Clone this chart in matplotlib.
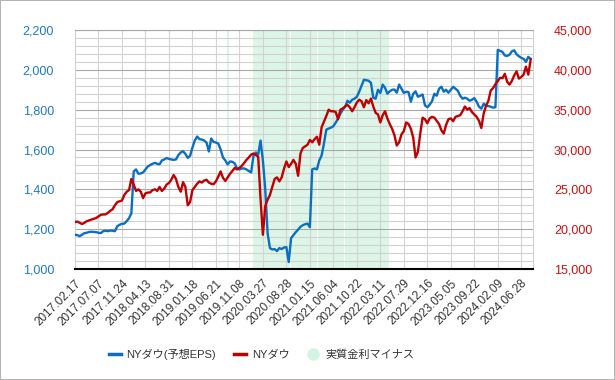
import numpy as np
import matplotlib
matplotlib.use('Agg')
import matplotlib.pyplot as plt
from matplotlib.lines import Line2D

plt.rcParams['font.family'] = ['Liberation Sans', 'Noto Sans CJK JP', 'DejaVu Sans']

## Data (one value every 2 weeks, weekly category axis)

tick_labels = ['2017.02.17', '2017.07.07', '2017.11.24', '2018.04.13', '2018.08.31',
               '2019.01.18', '2019.06.21', '2019.11.08', '2020.03.27', '2020.08.28',
               '2021.01.15', '2021.06.04', '2021.10.22', '2022.03.11', '2022.07.29',
               '2022.12.16', '2023.05.05', '2023.09.22', '2024.02.09', '2024.06.28']
weeks_per_tick = 20
step = 2

# NYダウ(予想EPS) - left axis
eps = [1172, 1170, 1165, 1172, 1180, 1182, 1186, 1187, 1186, 1185,
       1182, 1180, 1190, 1192, 1190, 1193, 1192, 1190, 1215, 1222,
       1227, 1228, 1240, 1255, 1280, 1490, 1500, 1478, 1480, 1485,
       1500, 1515, 1522, 1528, 1533, 1528, 1526, 1545, 1550, 1557,
       1553, 1550, 1548, 1550, 1572, 1585, 1591, 1578, 1558, 1568,
       1610, 1645, 1665, 1652, 1650, 1645, 1635, 1590, 1655, 1638,
       1635, 1630, 1600, 1560, 1545, 1525, 1540, 1538, 1530, 1505,
       1500, 1505, 1505, 1500, 1492, 1485, 1570, 1585, 1575, 1645,
       1545, 1400, 1180, 1105, 1098, 1100, 1090, 1105, 1100, 1108,
       1110, 1035, 1155, 1170, 1185, 1198, 1212, 1220, 1225, 1228,
       1210, 1500, 1505, 1500, 1545, 1570, 1630, 1700, 1705, 1710,
       1717, 1735, 1755, 1780, 1800, 1815, 1845, 1835, 1850, 1855,
       1865, 1890, 1920, 1950, 1948, 1945, 1935, 1860, 1855, 1900,
       1884, 1926, 1910, 1880, 1892, 1900, 1901, 1885, 1926, 1905,
       1884, 1890, 1888, 1840, 1880, 1892, 1865, 1870, 1876, 1822,
       1812, 1825, 1842, 1880, 1870, 1905, 1915, 1890, 1900, 1885,
       1900, 1915, 1905, 1895, 1870, 1855, 1860, 1855, 1845, 1850,
       1858, 1840, 1815, 1805, 1830, 1820, 1818, 1815, 1810, 1812,
       2100, 2095, 2090, 2072, 2070, 2076, 2093, 2098, 2078, 2068,
       2060, 2055, 2040, 2065, 2055]

# NYダウ - right axis
dow = [20900, 20950, 20800, 20650, 20800, 21000, 21100, 21200, 21300, 21400,
       21600, 21800, 21850, 21850, 22050, 22300, 22500, 23000, 23400, 23500,
       23600, 24300, 24700, 24900, 26300, 25600, 24800, 25000, 24700, 23900,
       24500, 24600, 24600, 24900, 25000, 24800, 25300, 24800, 25100, 25600,
       25800, 26200, 26800, 26300, 25300, 24700, 25900, 25300, 23000, 23400,
       24900, 25300, 25700, 26000, 25850, 26100, 26200, 25850, 25700, 25650,
       26000, 26600, 27250, 26450, 26050, 26500, 26950, 27300, 27700, 27500,
       27700, 27950, 28300, 28700, 29000, 29370, 29500, 29300, 29100, 23800,
       19300, 22900, 23700, 24300, 25300, 26300, 26500, 26000, 26500, 27600,
       28500, 27800, 28200, 28700, 28200, 26700, 29500, 30200, 30400, 30600,
       31200, 30900, 31300, 31600, 30600, 32800, 33500, 34200, 35000, 34800,
       34800, 34700, 33800, 35000, 35150, 35400, 35600, 35300, 34800, 35300,
       35900, 36250, 36050, 35300, 36200, 35800, 36400, 35400, 34600, 34400,
       33400, 34300, 34800, 33900, 33200, 32600, 31800, 30500, 30900, 31900,
       32300, 33400, 33200, 32600, 31500, 29000, 29700, 32000, 34000, 33800,
       33300, 33900, 34100, 34000, 33600, 33200, 32400, 32000, 33100, 33800,
       33900, 33550, 34100, 34200, 34300, 34800, 35400, 35000, 35200, 34700,
       34400, 34100, 33600, 32700, 34500, 35500, 36100, 37400, 37700, 38200,
       38600, 39000, 38950, 39500, 38500, 38150, 38600, 39300, 39800, 38900,
       39100, 39400, 40400, 39400, 41300]

# 実質金利マイナス (week index ranges)
neg_start = [130, 152]
neg_end = [131, 267]

## Plot

x = np.arange(len(eps)) * step
n_weeks = x[-1] + 2

fig = plt.figure(figsize=(6.15, 3.8), dpi=100, linewidth=1.2, edgecolor='#b4b4b4')
ax = fig.add_axes([75 / 615, 1 - 269 / 380, 458 / 615, 239 / 380])
ax2 = ax.twinx()

for s, e in zip(neg_start, neg_end):
    wk = np.arange(s, e + 1)
    ax.bar(wk, np.full(len(wk), 1200), bottom=1000, width=0.97,
           color='#dcf5e7', linewidth=0, zorder=0)

ax.plot(x, eps, color='#0a6fc2', lw=1.7, zorder=3)
ax2.plot(x, dow, color='#c00000', lw=1.7)

ax.set_xlim(0, n_weeks)
ax.set_ylim(1000, 2200)
ax2.set_ylim(15000, 45000)

ax.set_xticks(np.arange(len(tick_labels)) * weeks_per_tick)
ax.set_xticklabels(tick_labels, rotation=45, ha='right', rotation_mode='anchor',
                   fontsize=8.5, color='#333333')
ax.set_yticks(np.arange(1000, 2201, 200))
ax.set_yticks(np.arange(1000, 2201, 40), minor=True)
ax.set_yticklabels(['{:,}'.format(v) for v in range(1000, 2201, 200)],
                   fontsize=9, color='#1f78c8')
ax2.set_yticks(np.arange(15000, 45001, 5000))
ax2.set_yticklabels(['{:,}'.format(v) for v in range(15000, 45001, 5000)],
                    fontsize=9, color='#cc1111')

ax.tick_params(axis='x', length=0, pad=6)
ax.tick_params(axis='y', which='both', length=0, pad=15)
ax2.tick_params(axis='y', length=0, pad=15)

ax.grid(True, axis='y', which='major', color='#a8a8a8', lw=0.8)
ax.grid(True, axis='y', which='minor', color='#d2d2d2', lw=0.8)
ax.grid(True, axis='x', which='major', color='#d2d2d2', lw=0.8)

for side in ['left', 'right']:
    ax.spines[side].set_color('#d2d2d2')
    ax.spines[side].set_linewidth(0.8)
ax.spines['top'].set_color('#a8a8a8')
ax.spines['top'].set_linewidth(0.8)
ax.spines['bottom'].set_color('black')
ax.spines['bottom'].set_linewidth(1.5)
for sp in ax2.spines.values():
    sp.set_visible(False)

handles = [Line2D([], [], color='#0a6fc2', lw=2.5),
           Line2D([], [], color='#c00000', lw=2.5),
           Line2D([], [], marker='o', ls='none', markersize=9,
                  markerfacecolor='#d4f4e2', markeredgecolor='none')]
fig.legend(handles, ['NYダウ(予想EPS)', 'NYダウ', '実質金利マイナス'],
           loc='center', bbox_to_anchor=(0.425, 0.068), ncol=3, frameon=False,
           handlelength=1.1, handletextpad=0.5, columnspacing=1.6,
           fontsize=8, labelcolor='#333333')

fig.savefig('out.png', dpi=100)
